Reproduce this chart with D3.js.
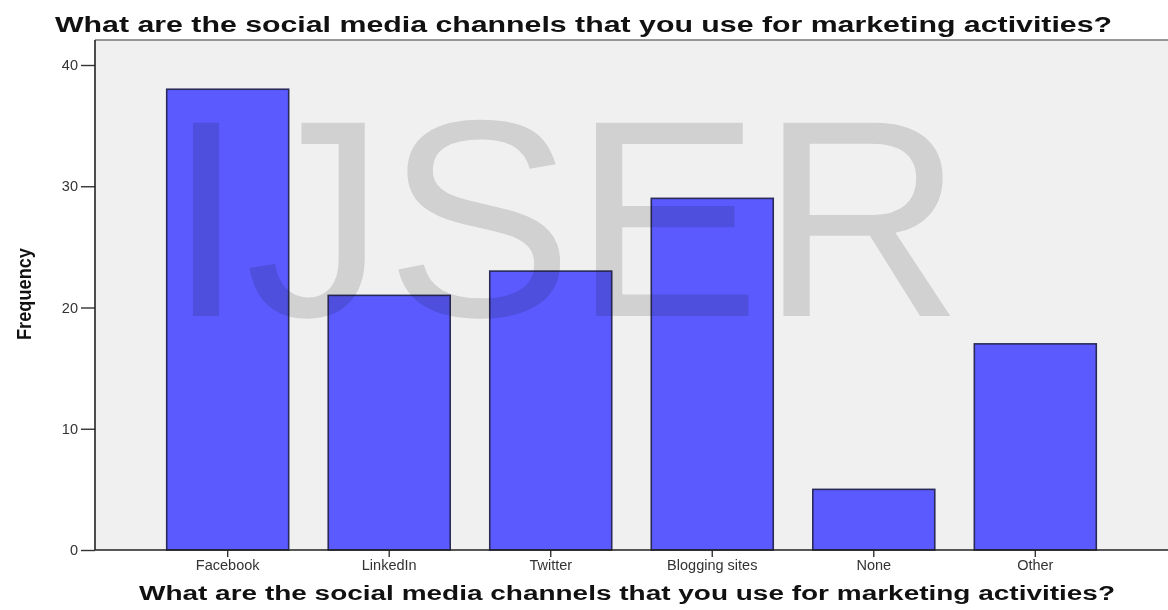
<!DOCTYPE html>
<html>
<head>
  <meta charset="utf-8" />
  <title>Social media channels</title>
  <style type="text/css">
    html, body { margin: 0; background: #fff; }
    text { font-family: "Liberation Sans", Arial, sans-serif; }
  </style>
</head>
<body>
<div id="container"></div>
<script src="https://cdn.jsdelivr.net/npm/d3@7"></script>
<script>
var channels = ["Facebook", "LinkedIn", "Twitter", "Blogging sites", "None", "Other"];
var frequency = [38, 21, 23, 29, 5, 17];
var yTicks = [0, 10, 20, 30, 40];
var question = "What are the social media channels that you use for marketing activities?";

var width = 1168, height = 610;
var plotLeft = 95, plotRight = 1168, plotTop = 40, plotBottom = 550;

var svg = d3.select("#container").append("svg")
    .attr("width", width)
    .attr("height", height);

var x = d3.scaleBand()
    .domain(channels)
    .range([plotLeft, plotRight])
    .paddingInner(0.245)
    .paddingOuter(0.444);

var y = d3.scaleLinear()
    .domain([0, 40])
    .range([plotBottom, 65]);

// plot background + top border
svg.append("rect")
    .attr("x", plotLeft).attr("y", plotTop)
    .attr("width", plotRight - plotLeft).attr("height", plotBottom - plotTop)
    .attr("fill", "#f0f0f0");
svg.append("line")
    .attr("x1", plotLeft).attr("x2", plotRight)
    .attr("y1", plotTop).attr("y2", plotTop)
    .attr("stroke", "#777").attr("stroke-width", 1.5);

// bars
svg.append("g").selectAll("rect")
    .data(channels)
  .enter().append("rect")
    .attr("x", function(d) { return x(d); })
    .attr("y", function(d, i) { return y(frequency[i]); })
    .attr("width", x.bandwidth())
    .attr("height", function(d, i) { return y(0) - y(frequency[i]); })
    .attr("fill", "#5a5aff")
    .attr("stroke", "#2a2a5a")
    .attr("stroke-width", 1.6);

// watermark
svg.append("text")
    .attr("x", 167).attr("y", 316)
    .attr("font-size", 281)
    .attr("fill", "rgb(222,222,222)")
    .style("mix-blend-mode", "multiply")
    .text("IJSER");

// y axis
var yAxis = svg.append("g")
    .attr("transform", "translate(" + plotLeft + ",0)")
    .call(d3.axisLeft(y).tickValues(yTicks).tickSize(14).tickPadding(3));
yAxis.select(".domain").remove();
yAxis.append("line")
    .attr("x1", 0).attr("x2", 0)
    .attr("y1", plotTop).attr("y2", plotBottom)
    .attr("stroke", "#222").attr("stroke-width", 1.6);
yAxis.selectAll(".tick line").attr("stroke", "#333").attr("stroke-width", 1.4);
yAxis.selectAll(".tick text")
    .attr("font-size", 14.5).attr("fill", "#333")
    .style("font-family", "'Liberation Sans', Arial, sans-serif");

// x axis
var xAxis = svg.append("g")
    .attr("transform", "translate(0," + plotBottom + ")")
    .call(d3.axisBottom(x).tickSize(7).tickPadding(3));
xAxis.select(".domain").remove();
xAxis.append("line")
    .attr("x1", plotLeft).attr("x2", plotRight)
    .attr("stroke", "#222").attr("stroke-width", 1.6);
xAxis.selectAll(".tick line").attr("stroke", "#333").attr("stroke-width", 1.4);
xAxis.selectAll(".tick text")
    .attr("font-size", 14.5).attr("fill", "#333")
    .style("font-family", "'Liberation Sans', Arial, sans-serif");

// titles
svg.append("text")
    .attr("x", 55).attr("y", 32)
    .attr("font-size", 22).attr("font-weight", "bold")
    .attr("textLength", 1057).attr("lengthAdjust", "spacingAndGlyphs")
    .attr("fill", "#111")
    .text(question);

svg.append("text")
    .attr("x", 139).attr("y", 600)
    .attr("font-size", 20).attr("font-weight", "bold")
    .attr("textLength", 976).attr("lengthAdjust", "spacingAndGlyphs")
    .attr("fill", "#111")
    .text(question);

svg.append("text")
    .attr("transform", "translate(31,294) rotate(-90)")
    .attr("text-anchor", "middle")
    .attr("font-size", 20).attr("font-weight", "bold")
    .attr("textLength", 92).attr("lengthAdjust", "spacingAndGlyphs")
    .style("font-family", "'Liberation Sans Narrow', 'Arial Narrow', 'Liberation Sans', sans-serif")
    .attr("fill", "#111")
    .text("Frequency");
</script>
</body>
</html>
